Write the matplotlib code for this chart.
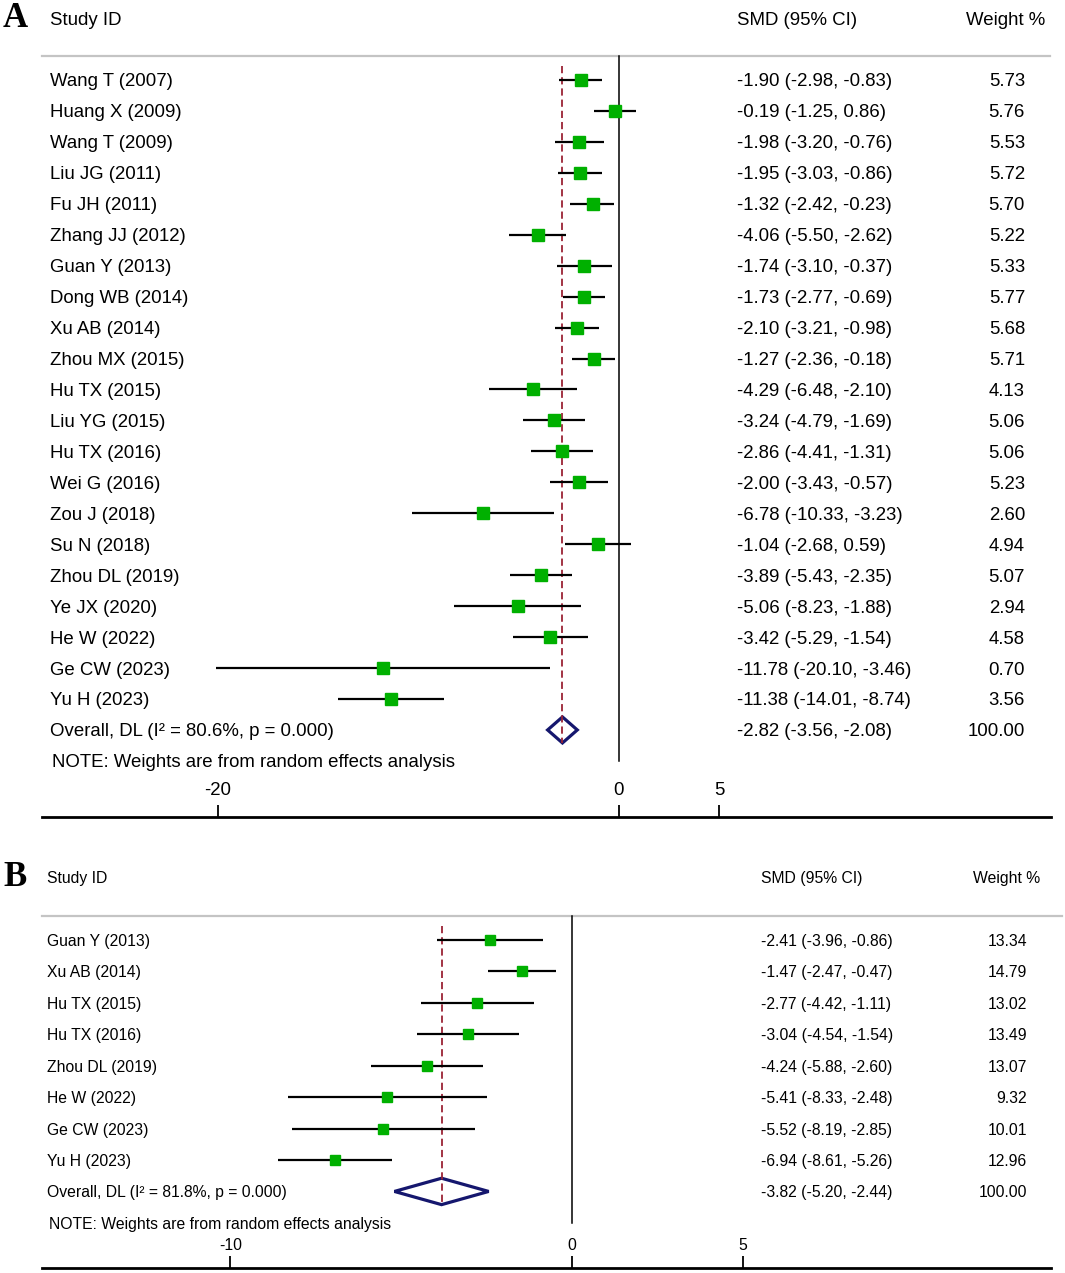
import numpy as np
import matplotlib.pyplot as plt
import matplotlib.transforms as mtransforms
from matplotlib.patches import Polygon

plt.rcParams['font.family'] = ['Liberation Sans', 'DejaVu Sans']
plt.rcParams['axes.unicode_minus'] = False

# panel A data
studiesA = ["Wang T (2007)", "Huang X (2009)", "Wang T (2009)", "Liu JG (2011)",
            "Fu JH (2011)", "Zhang JJ (2012)", "Guan Y (2013)", "Dong WB (2014)",
            "Xu AB (2014)", "Zhou MX (2015)", "Hu TX (2015)", "Liu YG (2015)",
            "Hu TX (2016)", "Wei G (2016)", "Zou J (2018)", "Su N (2018)",
            "Zhou DL (2019)", "Ye JX (2020)", "He W (2022)", "Ge CW (2023)",
            "Yu H (2023)"]
smdA = [-1.90, -0.19, -1.98, -1.95, -1.32, -4.06, -1.74, -1.73, -2.10, -1.27,
        -4.29, -3.24, -2.86, -2.00, -6.78, -1.04, -3.89, -5.06, -3.42, -11.78,
        -11.38]
lowA = [-2.98, -1.25, -3.20, -3.03, -2.42, -5.50, -3.10, -2.77, -3.21, -2.36,
        -6.48, -4.79, -4.41, -3.43, -10.33, -2.68, -5.43, -8.23, -5.29, -20.10,
        -14.01]
highA = [-0.83, 0.86, -0.76, -0.86, -0.23, -2.62, -0.37, -0.69, -0.98, -0.18,
         -2.10, -1.69, -1.31, -0.57, -3.23, 0.59, -2.35, -1.88, -1.54, -3.46,
         -8.74]
weightA = [5.73, 5.76, 5.53, 5.72, 5.70, 5.22, 5.33, 5.77, 5.68, 5.71, 4.13,
           5.06, 5.06, 5.23, 2.60, 4.94, 5.07, 2.94, 4.58, 0.70, 3.56]
overallA = (-2.82, -3.56, -2.08)
overall_labelA = "Overall, DL (I\u00b2 = 80.6%, p = 0.000)"
ticksA = [-20, 0, 5]

# panel B data
studiesB = ["Guan Y (2013)", "Xu AB (2014)", "Hu TX (2015)", "Hu TX (2016)",
            "Zhou DL (2019)", "He W (2022)", "Ge CW (2023)", "Yu H (2023)"]
smdB = [-2.41, -1.47, -2.77, -3.04, -4.24, -5.41, -5.52, -6.94]
lowB = [-3.96, -2.47, -4.42, -4.54, -5.88, -8.33, -8.19, -8.61]
highB = [-0.86, -0.47, -1.11, -1.54, -2.60, -2.48, -2.85, -5.26]
weightB = [13.34, 14.79, 13.02, 13.49, 13.07, 9.32, 10.01, 12.96]
overallB = (-3.82, -5.20, -2.44)
overall_labelB = "Overall, DL (I\u00b2 = 81.8%, p = 0.000)"
ticksB = [-10, 0, 5]

note = "NOTE: Weights are from random effects analysis"

W, H = 1065, 1273
fig = plt.figure(figsize=(W / 100, H / 100), dpi=100)


def forest(rect, xlim, ylim, letter, studies, smd, low, high, weight, overall,
           overall_label, ticks, fs, msize, cols, sep_x, axis_x, tpad):
    ax = fig.add_axes(rect)
    ax.set_xlim(*xlim)
    ax.set_ylim(*ylim)
    for s in ['top', 'left', 'right']:
        ax.spines[s].set_visible(False)
    ax.spines['bottom'].set_linewidth(2.0)
    ax.spines['bottom'].set_bounds(*axis_x)
    ax.set_yticks([])
    ax.set_xticks(ticks)
    ax.tick_params(axis='x', direction='in', length=9, width=1.3,
                   pad=tpad, labelsize=fs)
    tr = mtransforms.blended_transform_factory(ax.transAxes, ax.transData)
    n = len(studies)
    rows = np.arange(n)
    xl, xs, xw, xwh = cols
    va = 'center_baseline'

    # header
    ax.text(xl, -2, "Study ID", transform=tr, fontsize=fs, va=va)
    ax.text(xs, -2, "SMD (95% CI)", transform=tr, fontsize=fs, va=va)
    ax.text(xwh, -2, "Weight %", transform=tr, fontsize=fs, va=va, ha='right')
    ax.text(15 / W, -2, letter, transform=tr, fontsize=25, fontweight='bold',
            family='Liberation Serif', va='center', ha='center')
    ax.plot(sep_x, [-0.77, -0.77], transform=tr, color='#c4c4c4', lw=1.6,
            clip_on=False)

    # zero line and overall line
    ax.plot([0, 0], [-0.77, n + 1.0], color='black', lw=1.1)
    ax.plot([overall[0], overall[0]], [-0.45, n + 0.42], color='#9b2335',
            lw=1.3, dashes=(4, 2.2))

    # studies
    for r in rows:
        ax.plot([low[r], high[r]], [r, r], color='black', lw=1.6,
                solid_capstyle='butt')
        ax.plot(smd[r], r, marker='s', ms=msize, color='#00b000', mec='#00b000',
                ls='none')
        ax.text(xl, r, studies[r], transform=tr, fontsize=fs, va=va)
        ax.text(xs, r, f"{smd[r]:.2f} ({low[r]:.2f}, {high[r]:.2f})",
                transform=tr, fontsize=fs, va=va)
        ax.text(xw, r, f"{weight[r]:.2f}", transform=tr, fontsize=fs,
                va=va, ha='right')

    # overall diamond
    est, lo, hi = overall
    d = Polygon([[lo, n], [est, n - 0.42], [hi, n], [est, n + 0.42]],
                closed=True, fill=False, ec='#15176e', lw=2.3, joinstyle='miter')
    ax.add_patch(d)
    ax.text(xl, n, overall_label, transform=tr, fontsize=fs, va=va)
    ax.text(xs, n, f"{est:.2f} ({lo:.2f}, {hi:.2f})", transform=tr,
            fontsize=fs, va=va)
    ax.text(xw, n, "100.00", transform=tr, fontsize=fs, va=va, ha='right')
    ax.text(xl + 2 / W, n + 1, note, transform=tr, fontsize=fs, va=va)
    return ax


# panel A: x px = 619 + 20.05 * v ; row px = 80 + 30.95 * r
forest([0, 1 - 817 / H, 1, 817 / H],
       ((0 - 619) / 20.05, (W - 619) / 20.05),
       ((817 - 80) / 30.95, (0 - 80) / 30.95),
       "A", studiesA, smdA, lowA, highA, weightA, overallA, overall_labelA,
       ticksA, 13.4, 8.6, (50 / W, 737 / W, 1025 / W, 1045 / W),
       [42 / W, 1050 / W], ((42 - 619) / 20.05, (1051 - 619) / 20.05), -25.5)

# panel B: x px = 572 + 34.15 * v ; row px = 940 + 31.43 * r
forest([0, 1 - 1268 / H, 1, (1268 - 850) / H],
       ((0 - 572) / 34.15, (W - 572) / 34.15),
       ((1268 - 940) / 31.43, (850 - 940) / 31.43),
       "B", studiesB, smdB, lowB, highB, weightB, overallB, overall_labelB,
       ticksB, 11.3, 7.2, (47 / W, 761 / W, 1027 / W, 1040 / W),
       [42 / W, 1062 / W], ((42 - 572) / 34.15, (1051 - 572) / 34.15), -21.5)

fig.savefig("out.png", dpi=100)
